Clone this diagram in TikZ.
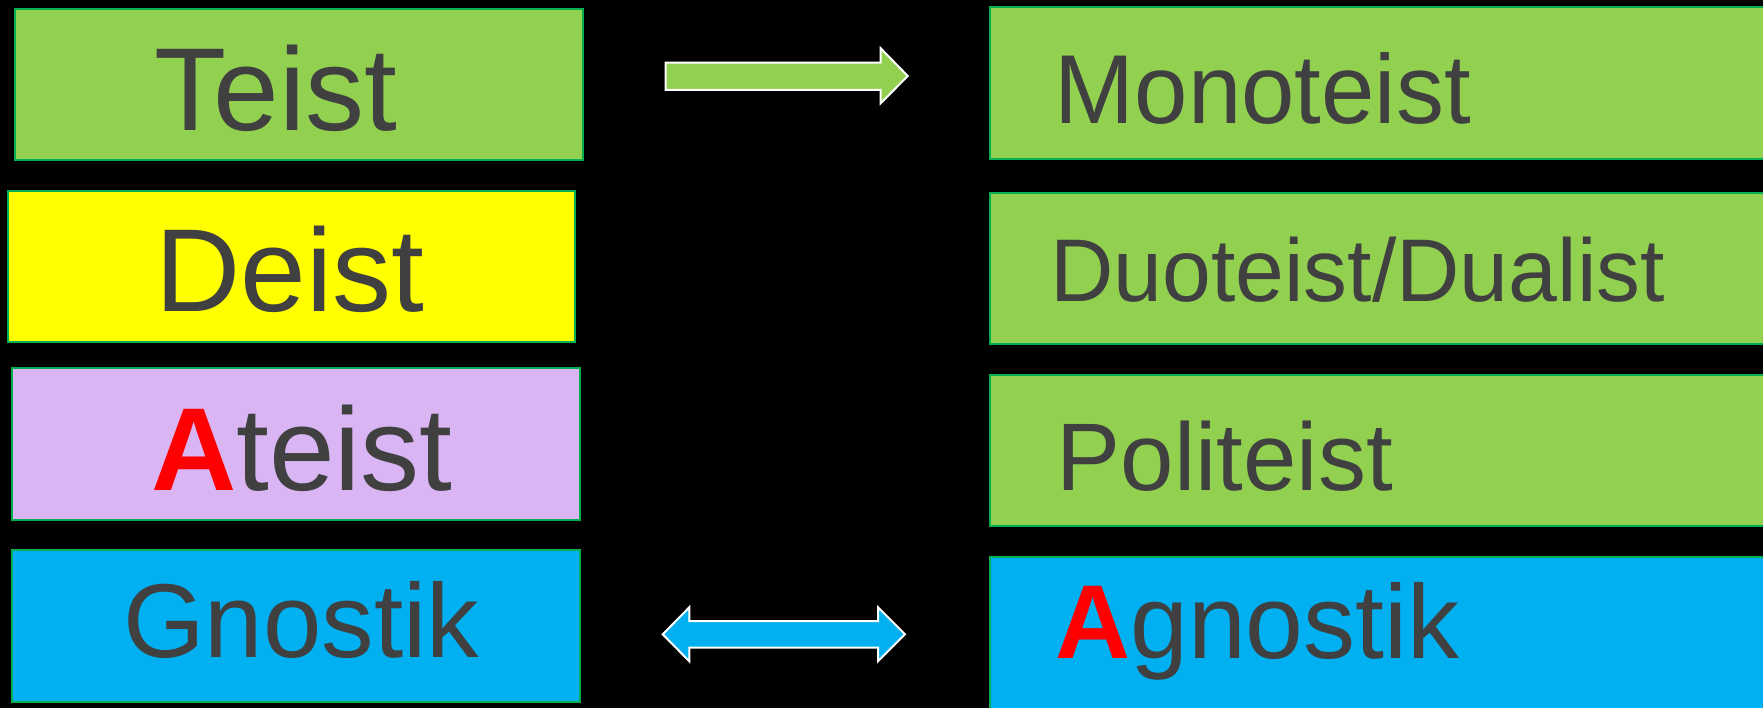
\documentclass[tikz,border=0pt]{standalone}
\usepackage{fontspec}
\setmainfont{Liberation Sans}
\definecolor{gfill}{HTML}{92D050}
\definecolor{yfill}{HTML}{FFFF00}
\definecolor{pfill}{HTML}{D9B5F3}
\definecolor{bfill}{HTML}{00B0F0}
\definecolor{boxline}{HTML}{00B050}
\definecolor{txt}{HTML}{404040}
\definecolor{redA}{HTML}{FF0000}
\newcommand{\redA}{{\bfseries\color{redA}A}}
\begin{document}
\begin{tikzpicture}[x=1pt,y=-1pt,
  box/.style={draw=boxline, line width=2pt, inner sep=0pt},
  lbl/.style={anchor=base west, inner sep=0pt, outer sep=0pt, text=txt},
  blockarrow/.style={draw=white, line width=2pt, line join=miter}]
\fill[black] (0,0) rectangle (1763,708);
\useasboundingbox (0,0) rectangle (1763,708);
\begin{scope}
\clip (0,0) rectangle (1763,708);
% left column
\node[box, fill=gfill, minimum width=567.6pt, minimum height=151.3pt] (teist) at (299.1,84.65) {};
\node[box, fill=yfill, minimum width=567.5pt, minimum height=151pt] (deist) at (291.45,266.2) {};
\node[box, fill=pfill, minimum width=567.6pt, minimum height=151.7pt] (ateist) at (296,444.15) {};
\node[box, fill=bfill, minimum width=568.7pt, minimum height=152.3pt] (gnostik) at (295.85,626.15) {};
% right column
\node[box, fill=gfill, minimum width=790pt, minimum height=151.4pt] (mono) at (1385,83) {};
\node[box, fill=gfill, minimum width=790pt, minimum height=151pt] (duo) at (1385,268.8) {};
\node[box, fill=gfill, minimum width=790pt, minimum height=151pt] (poli) at (1385,450.2) {};
\node[box, fill=bfill, minimum width=790pt, minimum height=152pt] (agno) at (1385,633.3) {};
\end{scope}
% labels
\node[lbl, font=\fontsize{118}{140}\selectfont] (teistT) at (154.3,130.7) {Teist};
\node[lbl, font=\fontsize{118}{140}\selectfont] (deistT) at (155.3,311.7) {Deist};
\node[lbl, font=\fontsize{118}{140}\selectfont] (ateistT) at (151,490) {\redA teist};
\node[lbl, font=\fontsize{105}{125}\selectfont] (gnostikT) at (123.2,657) {Gnostik};
\node[lbl, font=\fontsize{98}{118}\selectfont] (monoT) at (1054.9,123.3) {\scalebox{0.979}[1]{Monoteist}};
\node[lbl, font=\fontsize{89}{107}\selectfont] (duoT) at (1050.3,301.7) {\scalebox{0.986}[1]{Duoteist/Dualist}};
\node[lbl, font=\fontsize{96}{115}\selectfont] (poliT) at (1056.8,490.7) {Politeist};
\node[lbl, font=\fontsize{105}{125}\selectfont] (agnoT) at (1055.3,658.3) {\scalebox{0.99}[1]{\redA gnostik}};
% arrows
\coordinate (a1s) at (665.7,76);
\coordinate (a1e) at (907.7,76);
\draw[blockarrow, fill=gfill] (a1s) ++(0,-13.3) -- (880.7,62.7) -- (880.7,48.3) -- (a1e) -- (880.7,103.3) -- (880.7,90) -- (665.7,90) -- cycle;
\coordinate (a2s) at (662.7,634.3);
\coordinate (a2e) at (905,634.3);
\draw[blockarrow, fill=bfill] (a2s) -- (689.3,607.3) -- (689.3,621) -- (878,621) -- (878,607.3) -- (a2e) -- (878,661.3) -- (878,647.7) -- (689.3,647.7) -- (689.3,661.3) -- cycle;
\end{tikzpicture}
\end{document}
